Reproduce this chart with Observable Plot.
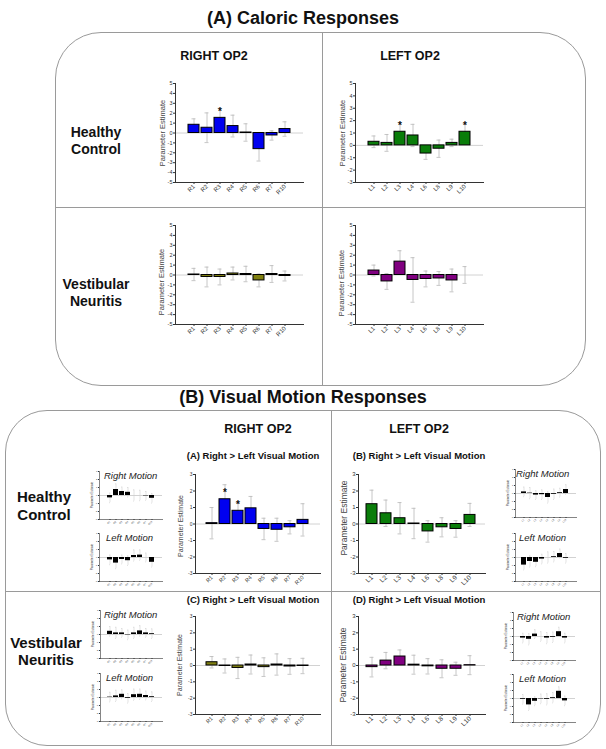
<!DOCTYPE html>
<html><head>
<meta charset="utf-8">
<script src="https://cdn.jsdelivr.net/npm/d3@7"></script>
<script src="https://cdn.jsdelivr.net/npm/@observablehq/plot@0.6"></script>
<style>
body{margin:0;background:#fff;font-family:"Liberation Sans",Arial,sans-serif;}
#root{position:relative;width:606px;height:749px;overflow:hidden;background:#fff;}
.box{position:absolute;border:1.2px solid #9a9a9a;box-sizing:border-box;}
.ln{position:absolute;background:#9a9a9a;}
.t{position:absolute;font-weight:bold;white-space:nowrap;transform:translate(-50%,-50%);text-align:center;color:#111;line-height:1;}
.it{position:absolute;font-style:italic;white-space:nowrap;transform:translateY(-50%);color:#222;line-height:1;}
.yl{position:absolute;white-space:nowrap;transform:translate(-50%,-50%) rotate(-90deg);color:#444;line-height:1;}
.plt{position:absolute;}
</style>
</head><body><div id="root"></div>
<script>
// ---------- categories ----------
const rightRegions = ["R1","R2","R3","R4","R5","R6","R7","R10"];
const leftRegions  = ["L1","L2","L3","L4","L6","L8","L9","L10"];

// ---------- (A) Caloric responses ----------
const calHcRightMean = [0.83, 0.53, 1.53, 0.70, 0.05, -1.63, -0.25, 0.40];
const calHcRightErr  = [0.60, 1.50, 0.97, 1.10, 0.88, 1.20, 0.47, 0.73];
const calHcRightSig  = [0,0,1,0,0,0,0,0];
const calHcLeftMean  = [0.29, 0.20, 1.10, 0.80, -0.66, -0.27, 0.20, 1.10];
const calHcLeftErr   = [0.47, 0.68, 0.75, 0.90, 0.47, 0.70, 0.30, 0.65];
const calHcLeftSig   = [0,0,1,0,0,0,0,1];
const calVnRightMean = [0.05, -0.20, -0.20, 0.15, 0.10, -0.55, 0.10, -0.10];
const calVnRightErr  = [0.62, 1.00, 0.80, 0.65, 0.78, 0.65, 0.85, 0.50];
const calVnLeftMean  = [0.45, -0.65, 1.35, -0.50, -0.40, -0.35, -0.55, 0.00];
const calVnLeftErr   = [0.55, 0.80, 1.10, 2.25, 0.80, 0.70, 1.15, 0.85];

// ---------- (B) Visual motion, Right > Left ----------
const visHcRightMean = [0.05, 1.50, 0.80, 0.95, -0.30, -0.35, -0.20, 0.25];
const visHcRightErr  = [0.95, 0.88, 0.50, 0.72, 0.65, 0.70, 0.40, 0.98];
const visHcRightSig  = [0,1,1,0,0,0,0,0];
const visHcLeftMean  = [1.20, 0.65, 0.35, 0.03, -0.45, -0.20, -0.30, 0.55];
const visHcLeftErr   = [0.85, 0.80, 0.95, 0.92, 0.65, 0.58, 0.50, 0.70];
const visVnRightMean = [0.20, -0.03, -0.15, 0.06, -0.10, 0.06, -0.06, -0.03];
const visVnRightErr  = [0.35, 0.43, 0.65, 0.58, 0.57, 0.65, 0.48, 0.47];
const visVnLeftMean  = [-0.10, 0.30, 0.55, 0.05, -0.05, -0.20, -0.20, 0.02];
const visVnLeftErr   = [0.60, 0.50, 0.40, 0.58, 0.47, 0.55, 0.40, 0.58];

// ---------- small panels: Right motion / Left motion ----------
const insHcRightRM = [-0.30, 0.75, 0.50, 0.40, 0.00, 0.00, -0.05, -0.35];
const insHcRightLM = [-0.30, -0.70, -0.25, -0.40, 0.25, 0.30, 0.00, -0.60];
const insHcLeftRM  = [0.20, 0.05, -0.20, -0.15, -0.50, -0.10, 0.10, 0.50];
const insHcLeftLM  = [-0.95, -0.50, -0.60, -0.20, 0.00, 0.10, 0.50, -0.10];
const insVnRightRM = [0.40, 0.20, 0.20, -0.05, 0.20, 0.45, 0.20, 0.10];
const insVnRightLM = [0.05, 0.20, 0.40, -0.10, 0.35, 0.40, 0.25, 0.10];
const insVnLeftRM  = [-0.20, -0.35, 0.30, 0.00, -0.20, -0.10, 0.60, -0.20];
const insVnLeftLM  = [-0.10, -0.80, -0.35, -0.05, -0.10, 0.10, 0.90, -0.30];
const insErr       = [0.60, 0.70, 0.55, 0.60, 0.70, 0.65, 0.55, 0.60];

const calTicks5 = [-5,-4,-3,-2,-1,0,1,2,3,4,5];
const calTicks3 = [-3,-2,-1,0,1,2,3,4,5];
const visTicks  = [-3,-2,-1,0,1,2,3];

const root = document.getElementById("root");
function add(html){ root.insertAdjacentHTML("beforeend", html); }

function chart(o){
  const ML = o.ML ?? 20, MR = 4, MT = 6, MB = o.MB ?? 26;
  const left = o.axisX - ML, top = o.yTop - MT;
  const width = ML + (o.lineR - o.axisX) + MR;
  const height = MT + (o.yBot - o.yTop) + MB;
  const data = o.cats.map((c,i)=>({cat:c, mean:o.mean[i], err:o.err[i], sig: o.sig ? !!o.sig[i] : false}));
  const cap = o.cap ?? 3.5;
  const svg = Plot.plot({
    width, height, marginLeft: ML, marginRight: MR, marginTop: MT, marginBottom: MB,
    style: {background:"transparent", fontFamily:"Liberation Sans, Arial, sans-serif", overflow:"visible", color:"#333"},
    x: {type:"band", domain:o.cats, insetLeft: o.bandL - o.axisX, insetRight: o.lineR - o.bandR, paddingInner: o.pad ?? 0.18, paddingOuter: 0},
    y: {domain:o.yDomain},
    marks: [
      Plot.ruleY([0], {stroke:"#d2d2d2", strokeWidth:1}),
      Plot.ruleX(data, {x:"cat", y1:d=>d.mean-d.err, y2:d=>d.mean+d.err, stroke:o.errColor ?? "#b8b8b8", strokeWidth:o.errW ?? 0.8}),
      Plot.tickY(data, {x:"cat", y:d=>d.mean+d.err, stroke:o.errColor ?? "#b8b8b8", strokeWidth:o.errW ?? 0.8, insetLeft:cap, insetRight:cap}),
      Plot.tickY(data, {x:"cat", y:d=>d.mean-d.err, stroke:o.errColor ?? "#b8b8b8", strokeWidth:o.errW ?? 0.8, insetLeft:cap, insetRight:cap}),
      Plot.barY(data, {x:"cat", y:"mean", fill:o.fill, stroke:o.barStroke ?? "#000", strokeWidth:o.barSW ?? 1}),
      Plot.text(data.filter(d=>d.sig), {x:"cat", y:"mean", text:()=>"*", dy:-6, fontSize:10, fontWeight:"bold", fill:"#111"}),
      Plot.axisY({ticks:o.yTicks, tickSize:o.tickSize ?? 2, tickPadding:1, fontSize:o.tickFont, label:null, tickFormat:d=>String(d)}),
      Plot.axisX({tickRotate:-45, tickSize:o.tickSize ?? 2, tickPadding:1, fontSize:o.xFont, label:null}),
      Plot.frame({anchor:"left", stroke:"#333", strokeWidth:o.axisW ?? 1}),
      Plot.frame({anchor:"bottom", stroke:"#333", strokeWidth:o.axisW ?? 1})
    ]
  });
  svg.classList.add("plt");
  svg.style.left = left + "px";
  svg.style.top = top + "px";
  root.appendChild(svg);
  if (o.ylabel) {
    add(`<div class="yl" style="left:${o.ylabel[0]}px;top:${o.ylabel[1]}px;font-size:${o.ylabel[2]}px">Parameter Estimate</div>`);
  }
}

// ---------- panel frames ----------
add(`<div class="box" style="left:55px;top:32px;width:531px;height:354px;border-radius:46px"></div>`);
add(`<div class="ln" style="left:55px;top:207px;width:531px;height:1.2px"></div>`);
add(`<div class="ln" style="left:322px;top:32px;width:1.2px;height:354px"></div>`);
add(`<div class="box" style="left:5px;top:410px;width:596px;height:336px;border-radius:42px"></div>`);
add(`<div class="ln" style="left:5px;top:591px;width:596px;height:1.2px"></div>`);
add(`<div class="ln" style="left:331px;top:410px;width:1.2px;height:336px"></div>`);

// ---------- titles ----------
add(`<div class="t" style="left:303px;top:18px;font-size:18px">(A) Caloric Responses</div>`);
add(`<div class="t" style="left:214px;top:56px;font-size:12.5px">RIGHT OP2</div>`);
add(`<div class="t" style="left:410px;top:56px;font-size:12.5px">LEFT OP2</div>`);
add(`<div class="t" style="left:96px;top:141px;font-size:14px;line-height:17px">Healthy<br>Control</div>`);
add(`<div class="t" style="left:96px;top:293px;font-size:14px;line-height:17px">Vestibular<br>Neuritis</div>`);
add(`<div class="t" style="left:303px;top:397px;font-size:18px">(B) Visual Motion Responses</div>`);
add(`<div class="t" style="left:258px;top:429px;font-size:12.5px">RIGHT OP2</div>`);
add(`<div class="t" style="left:419px;top:429px;font-size:12.5px">LEFT OP2</div>`);
add(`<div class="t" style="left:253px;top:456px;font-size:9.5px">(A) Right &gt; Left Visual Motion</div>`);
add(`<div class="t" style="left:419px;top:456px;font-size:9.5px">(B) Right &gt; Left Visual Motion</div>`);
add(`<div class="t" style="left:253px;top:600px;font-size:9.5px">(C) Right &gt; Left Visual Motion</div>`);
add(`<div class="t" style="left:419px;top:600px;font-size:9.5px">(D) Right &gt; Left Visual Motion</div>`);
add(`<div class="t" style="left:44px;top:506px;font-size:15px;line-height:18px">Healthy<br>Control</div>`);
add(`<div class="t" style="left:46px;top:651px;font-size:15px;line-height:17px">Vestibular<br>Neuritis</div>`);

// ---------- (A) caloric charts ----------
chart({cats:rightRegions, mean:calHcRightMean, err:calHcRightErr, sig:calHcRightSig, fill:"#0000f0",
  yDomain:[-5,5], yTicks:calTicks5, axisX:175, yTop:83, yBot:182, bandL:184, bandR:293, lineR:303,
  tickFont:5.5, xFont:6, ylabel:[163,133,7.5]});
chart({cats:leftRegions, mean:calHcLeftMean, err:calHcLeftErr, sig:calHcLeftSig, fill:"#0a7d0a",
  yDomain:[-3,5], yTicks:calTicks3, axisX:355, yTop:83, yBot:182, bandL:364, bandR:473, lineR:483,
  tickFont:5.5, xFont:6, ylabel:[343,133,7.5]});
chart({cats:rightRegions, mean:calVnRightMean, err:calVnRightErr, fill:"#808010",
  yDomain:[-5,5], yTicks:calTicks5, axisX:175, yTop:225, yBot:324, bandL:184, bandR:293, lineR:303,
  tickFont:5.5, xFont:6, ylabel:[162,282,7.5]});
chart({cats:leftRegions, mean:calVnLeftMean, err:calVnLeftErr, fill:"#800080",
  yDomain:[-5,5], yTicks:calTicks5, axisX:355, yTop:225, yBot:324, bandL:364, bandR:473, lineR:483,
  tickFont:5.5, xFont:6, ylabel:[342,283,7.5]});

// ---------- (B) visual charts ----------
chart({cats:rightRegions, mean:visHcRightMean, err:visHcRightErr, sig:visHcRightSig, fill:"#0000f0",
  yDomain:[-3,3], yTicks:visTicks, axisX:195, yTop:474, yBot:573, bandL:202, bandR:311, lineR:320,
  tickFont:5, xFont:5.5, ylabel:[180,526,7]});
chart({cats:leftRegions, mean:visHcLeftMean, err:visHcLeftErr, fill:"#0a7d0a",
  yDomain:[-3,3], yTicks:visTicks, axisX:358, yTop:474, yBot:573, bandL:366, bandR:476, lineR:485,
  tickFont:6, xFont:6.5, ylabel:[344,518,8.5]});
chart({cats:rightRegions, mean:visVnRightMean, err:visVnRightErr, fill:"#808010",
  yDomain:[-3,3], yTicks:visTicks, axisX:195, yTop:616, yBot:714, bandL:202, bandR:311, lineR:320,
  tickFont:5, xFont:5.5, ylabel:[179,665,7]});
chart({cats:leftRegions, mean:visVnLeftMean, err:visVnLeftErr, fill:"#800080",
  yDomain:[-3,3], yTicks:visTicks, axisX:358, yTop:616, yBot:714, bandL:366, bandR:476, lineR:485,
  tickFont:6, xFont:6.5, ylabel:[343,665,8.5]});

// ---------- small panels ----------
function inset(cats, mean, axisX, yTop, bandL, bandR, label, labelX){
  chart({cats, mean, err:insErr, fill:"#000", barStroke:"none", errColor:"#d0d0d0", errW:0.6, cap:2,
    yDomain:[-3,3], yTicks:visTicks, axisX, yTop, yBot:yTop+48, bandL, bandR, lineR:bandR+4,
    tickFont:2.5, xFont:2.5, tickSize:1, axisW:0.6, ML:8, MB:8, pad:0.1,
    ylabel:[axisX-7, yTop+24, 3]});
  add(`<div class="it" style="left:${labelX}px;top:${yTop+5}px;font-size:9.5px">${label}</div>`);
}
inset(rightRegions, insHcRightRM, 99, 471, 104, 158, "Right Motion", 104);
inset(rightRegions, insHcRightLM, 99, 533, 104, 158, "Left Motion", 106);
inset(leftRegions,  insHcLeftRM, 515, 469, 517, 572, "Right Motion", 516);
inset(leftRegions,  insHcLeftLM, 515, 533, 517, 572, "Left Motion", 519);
inset(rightRegions, insVnRightRM, 100, 610, 104, 158, "Right Motion", 104);
inset(rightRegions, insVnRightLM, 100, 673, 104, 158, "Left Motion", 106);
inset(leftRegions,  insVnLeftRM, 513, 612, 516, 571, "Right Motion", 517);
inset(leftRegions,  insVnLeftLM, 513, 674, 516, 571, "Left Motion", 519);
</script></body></html>
